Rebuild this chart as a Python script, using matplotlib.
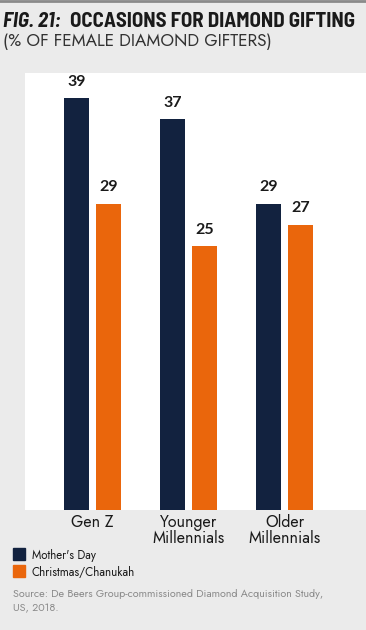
import numpy as np
import matplotlib.pyplot as plt
from matplotlib import font_manager

groups = ["Gen Z", "Younger\nMillennials", "Older\nMillennials"]
mothers_day = [39, 37, 29]
christmas = [29, 25, 27]
series_labels = ["Mother's Day", "Christmas/Chanukah"]

navy = "#12223f"
orange = "#ea660c"
bg = "#ebebeb"

installed = {f.name for f in font_manager.fontManager.ttflist}


def pick(*cands):
    return [c for c in cands if c in installed] + ["Lato", "DejaVu Sans"]


body = pick("Jost")
head = pick("Barlow Semi Condensed", "Fira Sans Condensed",
            "Encode Sans Semi Condensed", "Archivo Narrow")

W, H = 366, 630
fig = plt.figure(figsize=(W / 100, H / 100), dpi=100, facecolor=bg)
renderer = fig.canvas.get_renderer()


def fit(t, width_px):
    # scale a text so its drawn width matches the target width
    bb = t.get_window_extent(renderer)
    t.set_fontsize(t.get_fontsize() * width_px / bb.width)
    return t


# top rule
fig.add_artist(plt.Line2D([0, 1], [1 - 1 / H, 1 - 1 / H], color="#8a8a8a", lw=2))

# title: size the main part to its width, then match the "FIG. 21:" prefix
fig_lbl = fig.text(3 / W, 1 - 27 / H, "FIG. 21:", fontsize=14, fontweight="bold",
                   style="italic", color="#1a1a1a", family=head)
title = fig.text(92 / W, 1 - 27 / H, "OCCASIONS FOR DIAMOND GIFTING", fontsize=14,
                 fontweight="bold", color="#1a1a1a", family=head)
for _ in range(3):
    fig_lbl.set_fontsize(title.get_fontsize())
    x0 = fig_lbl.get_window_extent(renderer).x1 + 9
    title.set_x(x0 / W)
    fit(title, 355 - x0)
fig_lbl.set_fontsize(title.get_fontsize())
fit(fig.text(3 / W, 1 - 46 / H, "(% OF FEMALE DIAMOND GIFTERS)", fontsize=14,
             color="#333333", family=body), 269)

# plot panel
ax = fig.add_axes([25 / W, (H - 510) / H, (W - 25) / W, 437 / H])
ax.set_facecolor("white")
x = np.arange(len(groups))
w = 0.26
off = 0.167
b1 = ax.bar(x - off, mothers_day, w, color=navy)
b2 = ax.bar(x + off, christmas, w, color=orange)
for bars, vals in [(b1, mothers_day), (b2, christmas)]:
    for r, v in zip(bars, vals):
        ax.text(r.get_x() + r.get_width() / 2, v + 0.9, str(v), ha="center",
                va="bottom", fontsize=11.5, fontweight="bold", color="#1a1a1a",
                family="Lato")
ax.set_xlim(-0.703, 2.849)
ax.set_ylim(0, 41.4)
ax.set_yticks([])
ax.set_xticks(x)
ax.set_xticklabels(groups, fontsize=11.5, color="#1a1a1a", family=body,
                   linespacing=0.9)
ax.tick_params(axis="x", length=0, pad=3)
for s in ax.spines.values():
    s.set_visible(False)

# legend
for i, (lab, c) in enumerate(zip(series_labels, [navy, orange])):
    y0 = 548 + i * 17
    fig.add_artist(plt.Rectangle((13 / W, 1 - (y0 + 12) / H), 12 / W, 12 / H,
                                 color=c, transform=fig.transFigure))
    t = fig.text(32 / W, 1 - (y0 + 7) / H, lab, fontsize=9.5, va="center",
                 color="#1a1a1a", family=body)
    fit(t, [64, 103][i])

src = fig.text(13 / W, 1 - 594 / H,
               "Source: De Beers Group-commissioned Diamond Acquisition Study,",
               fontsize=9, va="center", color="#8a8a8a", family=body)
fit(src, 312)
fig.text(13 / W, 1 - 608 / H, "US, 2018.", fontsize=src.get_fontsize(),
         va="center", color="#8a8a8a", family=body)

fig.savefig("out.png", dpi=100, facecolor=bg)
